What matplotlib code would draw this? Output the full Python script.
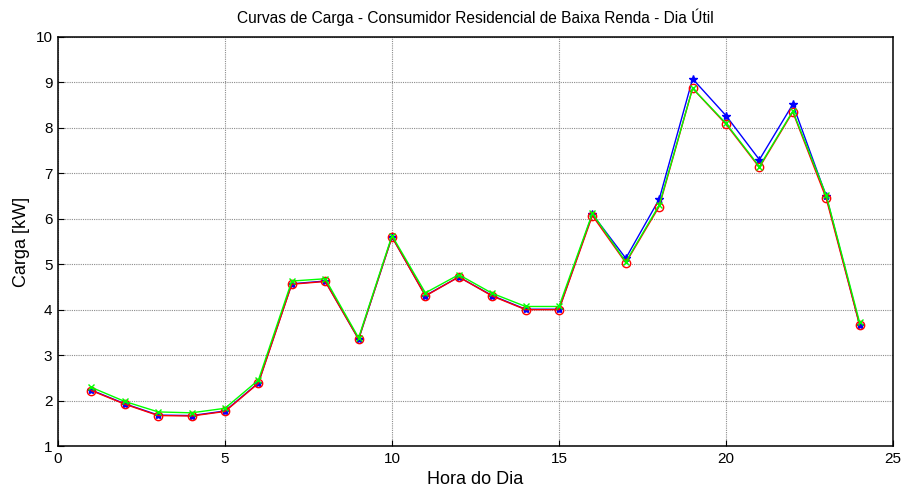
import matplotlib.pyplot as plt
import numpy as np

plt.rcParams['font.family'] = ['Liberation Sans', 'DejaVu Sans']

hora = np.arange(1, 25)
carga_azul = [2.23, 1.93, 1.68, 1.67, 1.77, 2.39, 4.57, 4.63, 3.35, 5.60, 4.31, 4.72, 4.31, 4.01, 4.01,
              6.10, 5.13, 6.43, 9.08, 8.27, 7.30, 8.52, 6.50, 3.67]
carga_verm = [2.22, 1.92, 1.67, 1.66, 1.76, 2.38, 4.56, 4.62, 3.35, 5.60, 4.30, 4.72, 4.30, 4.00, 4.00,
              6.07, 5.03, 6.27, 8.87, 8.08, 7.13, 8.35, 6.45, 3.66]
carga_verde = [2.29, 1.98, 1.75, 1.73, 1.83, 2.45, 4.63, 4.68, 3.38, 5.63, 4.37, 4.77, 4.36, 4.07, 4.07,
               6.12, 5.05, 6.30, 8.87, 8.10, 7.15, 8.37, 6.52, 3.72]

fig = plt.figure(figsize=(9.06, 4.93), dpi=100)
# eixo: x de 58 a 893 px, y de 37 a 446 px
ax = fig.add_axes([58/906, 1 - 446/493, 835/906, 409/493])

ax.plot(hora, carga_azul, color='#0000ff', marker='*', markersize=6, linewidth=1)
ax.plot(hora, carga_verm, color='#ff0000', marker='o', markersize=6, markerfacecolor='none', linewidth=1)
ax.plot(hora, carga_verde, color='#00ff00', marker='x', markersize=5, linewidth=1)

ax.set_xlim(0, 25)
ax.set_ylim(1, 10)
ax.set_xticks(range(0, 26, 5))
ax.set_yticks(range(1, 11))
ax.grid(True, color='#8c8c8c', linewidth=0.8, linestyle=(0, (1, 1)))
for s in ax.spines.values():
    s.set_linewidth(1.1)
ax.tick_params(direction='in', labelsize=11, length=4, pad=4)
ax.set_xlabel('Hora do Dia', fontsize=13, labelpad=4)
ax.set_ylabel('Carga [kW]', fontsize=13, labelpad=4)
ax.set_title('Curvas de Carga - Consumidor Residencial de Baixa Renda - Dia Útil', fontsize=11.2, pad=10)

fig.savefig('out.png', dpi=100)
